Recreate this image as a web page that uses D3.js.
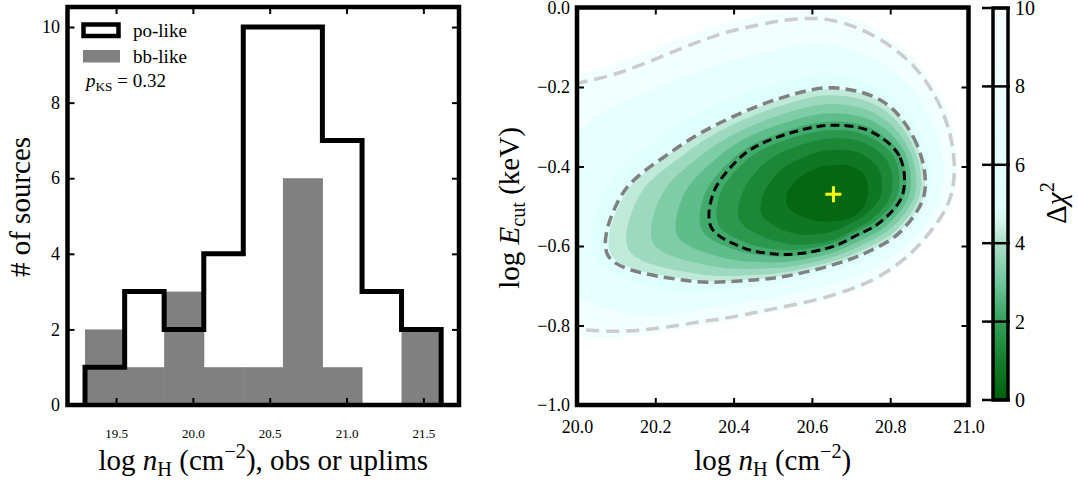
<!DOCTYPE html>
<html>
<head>
<meta charset="utf-8">
<script src="https://cdn.jsdelivr.net/npm/d3@7"></script>
<style>
  body { margin: 0; background: #fff; }
  svg { display: block; font-family: "Liberation Serif", "Times New Roman", serif; }
  text { white-space: pre; }
</style>
</head>
<body>
<svg id="chart" width="1078" height="480"></svg>
<script>
// ---- left panel: histogram of log nH ----
const binEdges = [19.298, 19.556, 19.813, 20.071, 20.328, 20.586, 20.843, 21.101, 21.358, 21.616];
const poCounts = [1, 3, 2, 4, 10, 10, 7, 3, 2];
const bbCounts = [2, 1, 3, 1, 1, 6, 1, 0, 2];
const histXTicks = [19.5, 20.0, 20.5, 21.0, 21.5];
const histYTicks = [0, 2, 4, 6, 8, 10];
const pKS = 0.32;

// ---- right panel: delta chi^2 map ----
const bestFit = [20.655, -0.47];
// directions (deg) from the best fit along which contour radii (dex) were read
const contourAngles = [0, 30, 60, 90, 120, 150, 165, 180, 195, 210, 225, 240, 270, 300, 330];
const fillLevels = [10, 7.5, 5.5, 4.5, 4.0, 3.5, 3.0, 2.5, 2.0, 1.5, 1.0, 0.5];
const fillRadii = [
  [0.309, 0.349, 0.401, 0.457, 0.504, 0.651, 0.880, 0.950, 1.050, 0.720, 0.467, 0.348, 0.262, 0.245, 0.260],
  [0.275, 0.305, 0.341, 0.374, 0.405, 0.530, 0.660, 0.740, 0.760, 0.600, 0.396, 0.299, 0.224, 0.212, 0.231],
  [0.246, 0.266, 0.289, 0.302, 0.318, 0.403, 0.486, 0.590, 0.628, 0.485, 0.334, 0.257, 0.192, 0.183, 0.206],
  [0.231, 0.246, 0.263, 0.265, 0.275, 0.345, 0.420, 0.533, 0.588, 0.429, 0.303, 0.235, 0.176, 0.168, 0.193],
  [0.221, 0.237, 0.249, 0.249, 0.259, 0.326, 0.393, 0.494, 0.541, 0.401, 0.287, 0.224, 0.168, 0.159, 0.183],
  [0.208, 0.224, 0.230, 0.227, 0.237, 0.298, 0.357, 0.438, 0.476, 0.361, 0.264, 0.209, 0.157, 0.147, 0.170],
  [0.194, 0.211, 0.210, 0.204, 0.214, 0.271, 0.319, 0.382, 0.411, 0.321, 0.242, 0.193, 0.146, 0.135, 0.157],
  [0.182, 0.199, 0.192, 0.183, 0.193, 0.245, 0.284, 0.329, 0.348, 0.283, 0.220, 0.178, 0.135, 0.123, 0.144],
  [0.164, 0.181, 0.171, 0.162, 0.171, 0.218, 0.253, 0.290, 0.303, 0.249, 0.197, 0.160, 0.122, 0.110, 0.129],
  [0.147, 0.161, 0.151, 0.141, 0.147, 0.183, 0.208, 0.234, 0.249, 0.211, 0.174, 0.146, 0.114, 0.103, 0.118],
  [0.122, 0.132, 0.122, 0.112, 0.116, 0.141, 0.159, 0.179, 0.191, 0.166, 0.140, 0.118, 0.093, 0.085, 0.098],
  [0.088, 0.093, 0.083, 0.073, 0.078, 0.093, 0.106, 0.119, 0.121, 0.104, 0.088, 0.078, 0.068, 0.071, 0.081]
];
const lineLevels = [9.21, 4.61, 2.30];
const lineRadii = [
  [0.301, 0.338, 0.386, 0.437, 0.480, 0.619, 0.840, 0.920, 1.000, 0.687, 0.449, 0.336, 0.253, 0.237, 0.253],
  [0.232, 0.247, 0.265, 0.268, 0.278, 0.348, 0.424, 0.540, 0.596, 0.434, 0.306, 0.237, 0.177, 0.169, 0.194],
  [0.177, 0.194, 0.184, 0.174, 0.184, 0.235, 0.270, 0.308, 0.323, 0.268, 0.212, 0.172, 0.131, 0.119, 0.139]
];
const lineColors = ['#cccccc', '#808080', '#000000'];
const mapXTicks = [20.0, 20.2, 20.4, 20.6, 20.8, 21.0];
const mapYTicks = [0.0, -0.2, -0.4, -0.6, -0.8, -1.0];
const cmapValues = [0, 1, 2, 3, 4, 4.6, 5, 10];
const cmapColors = ['#005f0a', '#147f2b', '#33a05a', '#6ec79c', '#addfc9', '#d8f7ee', '#e0ffff', '#f7ffff'];
const cbarTicks = [0, 2, 4, 6, 8, 10];

const svg = d3.select('#chart');

// text with italic / sub / sup pieces
function addParts(sel, parts, size) {
  let shift = 0;
  parts.forEach(([str, kind]) => {
    let target = 0, fs = size, style = 'normal';
    if (kind === 'i') style = 'italic';
    if (kind === 'sub') { target = 0.22 * size; fs = size * 0.7; }
    if (kind === 'sup') { target = -0.42 * size; fs = size * 0.7; }
    sel.append('tspan')
      .attr('dy', target - shift)
      .attr('font-size', fs)
      .attr('font-style', style)
      .text(str);
    shift = target;
  });
}

function styleAxis(a, size) {
  a.attr('font-family', null).attr('font-size', size);
  a.select('.domain').remove();
  a.selectAll('line').attr('stroke-width', 2);
  a.selectAll('text').attr('fill', '#000');
}

// ================= left panel =================
const L = { left: 67.5, right: 459, top: 7, bottom: 405 };
const xh = d3.scaleLinear().domain([19.184, 21.732]).range([L.left, L.right]);
const yh = d3.scaleLinear().domain([0, 10.53]).range([L.bottom, L.top]);

const gL = svg.append('g');
gL.append('rect').attr('x', L.left).attr('y', L.top)
  .attr('width', L.right - L.left).attr('height', L.bottom - L.top).attr('fill', '#fff');

gL.selectAll('rect.bb')
  .data(bbCounts)
  .enter()
  .append('rect')
  .attr('class', 'bb')
  .attr('x', (d, i) => xh(binEdges[i]))
  .attr('width', (d, i) => xh(binEdges[i + 1]) - xh(binEdges[i]) + 0.5)
  .attr('y', d => yh(d))
  .attr('height', d => yh(0) - yh(d))
  .attr('fill', '#808080');

const stepPts = [[binEdges[0], 0]];
poCounts.forEach((c, i) => {
  stepPts.push([binEdges[i], c]);
  stepPts.push([binEdges[i + 1], c]);
});
stepPts.push([binEdges[binEdges.length - 1], 0]);

gL.append('path')
  .attr('d', d3.line().x(d => xh(d[0])).y(d => yh(d[1]))(stepPts))
  .attr('fill', 'none')
  .attr('stroke', '#000')
  .attr('stroke-width', 5)
  .attr('stroke-linejoin', 'miter');

// axes (inward ticks on all sides)
const axB = gL.append('g').attr('transform', `translate(0,${L.bottom})`)
  .call(d3.axisBottom(xh).tickValues(histXTicks).tickFormat(d3.format('.1f')).tickSize(-7).tickPadding(24));
const axT = gL.append('g').attr('transform', `translate(0,${L.top})`)
  .call(d3.axisTop(xh).tickValues(histXTicks).tickFormat('').tickSize(-7));
const axLft = gL.append('g').attr('transform', `translate(${L.left},0)`)
  .call(d3.axisLeft(yh).tickValues(histYTicks).tickSize(-7).tickPadding(7.5));
const axR = gL.append('g').attr('transform', `translate(${L.right},0)`)
  .call(d3.axisRight(yh).tickValues(histYTicks).tickFormat('').tickSize(-7));
styleAxis(axB, 13);
styleAxis(axT, 13);
styleAxis(axLft, 18);
styleAxis(axR, 18);

gL.append('rect').attr('x', L.left).attr('y', L.top)
  .attr('width', L.right - L.left).attr('height', L.bottom - L.top)
  .attr('fill', 'none').attr('stroke', '#000').attr('stroke-width', 4.5);

// legend
gL.append('rect').attr('x', 83.5).attr('y', 24.5).attr('width', 35).attr('height', 11.5)
  .attr('fill', '#fff').attr('stroke', '#000').attr('stroke-width', 4.5);
gL.append('rect').attr('x', 83).attr('y', 50).attr('width', 37).attr('height', 12.5).attr('fill', '#808080');
gL.append('text').attr('x', 133).attr('y', 37).attr('font-size', 19).text('po-like');
gL.append('text').attr('x', 133).attr('y', 63).attr('font-size', 19).text('bb-like');
addParts(gL.append('text').attr('x', 86).attr('y', 87),
  [['p', 'i'], ['KS', 'sub'], [' = ' + pKS.toFixed(2)]], 19);

// axis labels
addParts(gL.append('text').attr('x', (L.left + L.right) / 2).attr('y', 470).attr('text-anchor', 'middle'),
  [['log '], ['n', 'i'], ['H', 'sub'], [' (cm'], ['\u22122', 'sup'], ['), obs or uplims']], 29);
gL.append('text').attr('transform', 'translate(30,207) rotate(-90)')
  .attr('text-anchor', 'middle').attr('font-size', 29).text('# of sources');

// ================= right panel =================
const R = { left: 577, right: 968.5, top: 7.5, bottom: 405 };
const xm = d3.scaleLinear().domain([20, 21]).range([R.left, R.right]);
const ym = d3.scaleLinear().domain([-1, 0]).range([R.bottom, R.top]);
const cmap = d3.scaleLinear().domain(cmapValues).range(cmapColors).interpolate(d3.interpolateRgb);

const defs = svg.append('defs');
defs.append('clipPath').attr('id', 'mapClip').append('rect')
  .attr('x', R.left).attr('y', R.top).attr('width', R.right - R.left).attr('height', R.bottom - R.top);

const contourLine = d3.line()
  .x(d => xm(d[0]))
  .y(d => ym(d[1]))
  .curve(d3.curveCatmullRomClosed.alpha(0.5));

const toPts = radii => radii.map((r, i) => {
  const a = contourAngles[i] * Math.PI / 180;
  return [bestFit[0] + r * Math.cos(a), bestFit[1] + r * Math.sin(a)];
});

const gR = svg.append('g');
gR.append('rect').attr('x', R.left).attr('y', R.top)
  .attr('width', R.right - R.left).attr('height', R.bottom - R.top).attr('fill', '#fff');

const gMap = gR.append('g').attr('clip-path', 'url(#mapClip)');
gMap.selectAll('path.band')
  .data(fillLevels)
  .enter()
  .append('path')
  .attr('class', 'band')
  .attr('d', (lev, i) => contourLine(toPts(fillRadii[i])))
  .attr('fill', (lev, i) => {
    const lower = i < fillLevels.length - 1 ? fillLevels[i + 1] : 0;
    return cmap((lev + lower) / 2);
  });

const dashes = ['13,7', '11,6', '9,5'];
const widths = [3.5, 3.5, 3];
gMap.selectAll('path.lev')
  .data(lineLevels)
  .enter()
  .append('path')
  .attr('class', 'lev')
  .attr('d', (lev, i) => contourLine(toPts(lineRadii[i])))
  .attr('fill', 'none')
  .attr('stroke', (lev, i) => lineColors[i])
  .attr('stroke-width', (lev, i) => widths[i])
  .attr('stroke-dasharray', (lev, i) => dashes[i]);

// best fit marker
const bx = xm(bestFit[0]), by = ym(bestFit[1]);
gMap.append('path')
  .attr('d', `M${bx - 8},${by}H${bx + 8}M${bx},${by - 8}V${by + 8}`)
  .attr('stroke', '#ffff00').attr('stroke-width', 3).attr('fill', 'none');

const rB = gR.append('g').attr('transform', `translate(0,${R.bottom})`)
  .call(d3.axisBottom(xm).tickValues(mapXTicks).tickFormat(d3.format('.1f')).tickSize(-7).tickPadding(15));
const rT = gR.append('g').attr('transform', `translate(0,${R.top})`)
  .call(d3.axisTop(xm).tickValues(mapXTicks).tickFormat('').tickSize(-7));
const rL = gR.append('g').attr('transform', `translate(${R.left},0)`)
  .call(d3.axisLeft(ym).tickValues(mapYTicks).tickFormat(d3.format('.1f')).tickSize(-7).tickPadding(7));
const rR = gR.append('g').attr('transform', `translate(${R.right},0)`)
  .call(d3.axisRight(ym).tickValues(mapYTicks).tickFormat('').tickSize(-7));
[rB, rT, rL, rR].forEach(a => styleAxis(a, 18));

gR.append('rect').attr('x', R.left).attr('y', R.top)
  .attr('width', R.right - R.left).attr('height', R.bottom - R.top)
  .attr('fill', 'none').attr('stroke', '#000').attr('stroke-width', 4.5);

addParts(gR.append('text').attr('x', (R.left + R.right) / 2).attr('y', 470).attr('text-anchor', 'middle'),
  [['log '], ['n', 'i'], ['H', 'sub'], [' (cm'], ['\u22122', 'sup'], [')']], 29);
addParts(gR.append('text').attr('transform', 'translate(519,208) rotate(-90)').attr('text-anchor', 'middle'),
  [['log '], ['E', 'i'], ['cut', 'sub'], [' (keV)']], 29);

// ================= colorbar =================
const C = { left: 993, width: 15, top: 8, bottom: 400 };
const yc = d3.scaleLinear().domain([0, 10]).range([C.bottom, C.top]);
const grad = defs.append('linearGradient').attr('id', 'cbarGrad')
  .attr('x1', 0).attr('y1', 1).attr('x2', 0).attr('y2', 0);
grad.selectAll('stop')
  .data(cmapValues)
  .enter()
  .append('stop')
  .attr('offset', d => d / 10)
  .attr('stop-color', (d, i) => cmapColors[i]);

const gC = svg.append('g');
gC.append('rect').attr('x', C.left).attr('y', C.top).attr('width', C.width)
  .attr('height', C.bottom - C.top).attr('fill', 'url(#cbarGrad)');
gC.selectAll('line.ct')
  .data(cbarTicks)
  .enter()
  .append('line')
  .attr('class', 'ct')
  .attr('x1', C.left - 11).attr('x2', C.left + C.width + 2)
  .attr('y1', d => yc(d)).attr('y2', d => yc(d))
  .attr('stroke', '#000').attr('stroke-width', 2.5);
gC.selectAll('text.cl')
  .data(cbarTicks)
  .enter()
  .append('text')
  .attr('class', 'cl')
  .attr('x', C.left + C.width + 7)
  .attr('y', d => yc(d))
  .attr('dy', '0.35em')
  .attr('font-size', 20)
  .text(d => d);
gC.append('rect').attr('x', C.left).attr('y', C.top).attr('width', C.width)
  .attr('height', C.bottom - C.top).attr('fill', 'none')
  .attr('stroke', '#000').attr('stroke-width', 3.5);
addParts(gC.append('text').attr('transform', 'translate(1066,203) rotate(-90)').attr('text-anchor', 'middle'),
  [['\u0394'], ['\u03c7', 'i'], ['2', 'sup']], 29);
</script>
</body>
</html>
